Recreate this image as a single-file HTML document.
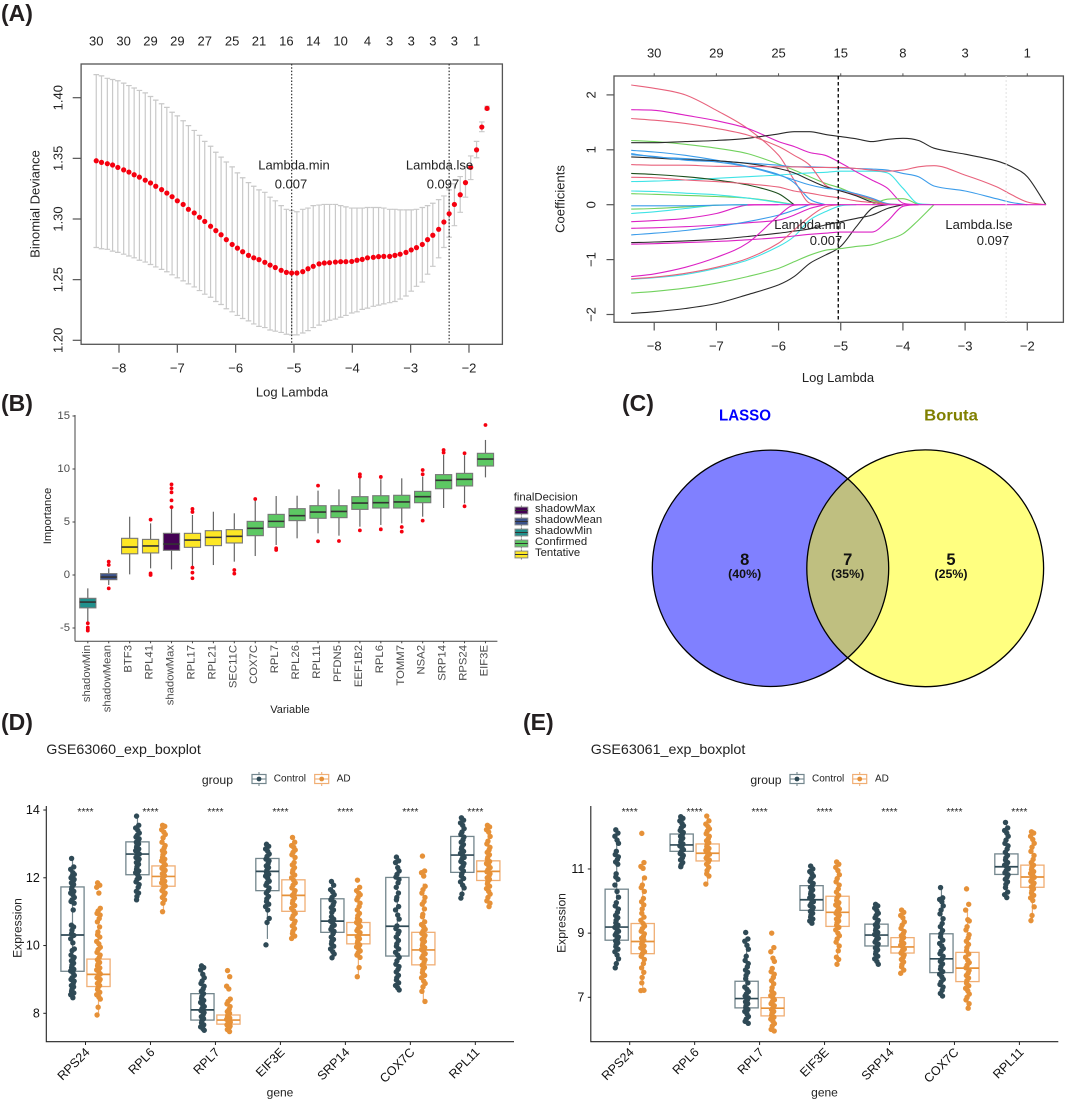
<!DOCTYPE html>
<html lang="en">
<head>
<meta charset="utf-8">
<title>LASSO, Boruta, Venn and expression boxplots</title>
<style>
html,body{margin:0;padding:0;background:#fff;}
svg{display:block;font-family:"Liberation Sans",Arial,sans-serif;filter:blur(.3px);}
text{fill:#222;}
.panel-tag{font-size:23px;font-weight:700;fill:#231f20;}
.venn{font-family:"Liberation Sans",Arial,sans-serif;font-weight:700;}
</style>
</head>
<body>
<svg id="fig" width="1065" height="1100" viewBox="0 0 1065 1100" xmlns="http://www.w3.org/2000/svg">
  <rect width="1065" height="1100" fill="#fff"/>
  <text class="panel-tag" x="1" y="21">(A)</text>
  <text class="panel-tag" x="1" y="411">(B)</text>
  <text class="panel-tag" x="622" y="411">(C)</text>
  <text class="panel-tag" x="1" y="730">(D)</text>
  <text class="panel-tag" x="523" y="730">(E)</text>

  <g id="panelA1">
    <rect x="81.1" y="64" width="421.3" height="280.3" fill="none" stroke="#555" stroke-width="1.3"/>
    <text transform="rotate(-90 35 204)" x="35" y="204" text-anchor="middle" dominant-baseline="central" font-size="13">Binomial Deviance</text>
    <text x="292" y="392" text-anchor="middle" dominant-baseline="central" font-size="13">Log Lambda</text>
  </g>
  <g id="panelA2">
    <rect x="614" y="76" width="449.4" height="246.3" fill="none" stroke="#555" stroke-width="1.3"/>
    <text transform="rotate(-90 560 199)" x="560" y="199" text-anchor="middle" dominant-baseline="central" font-size="13">Coefficients</text>
    <text x="838" y="377.7" text-anchor="middle" dominant-baseline="central" font-size="13">Log Lambda</text>
  </g>
  <g id="panelB">
    <line x1="75" y1="415" x2="75" y2="641.3" stroke="#444" stroke-width="1"/>
    <line x1="75" y1="641.3" x2="497.4" y2="641.3" stroke="#444" stroke-width="1"/>
    <text transform="rotate(-90 48 516)" x="48" y="516" text-anchor="middle" dominant-baseline="central" font-size="11.3">Importance</text>
    <text x="290" y="710" text-anchor="middle" dominant-baseline="central" font-size="11">Variable</text>
    <text x="513.7" y="497.3" dominant-baseline="central" font-size="11.3">finalDecision</text>
  </g>
  <g id="panelC">
    <circle cx="770.5" cy="568.3" r="118.2" fill="#8080ff"/>
    <circle cx="925.2" cy="568.3" r="118.4" fill="#ffff80"/>
    <path d="M847.8 478.7 A118.2 118.2 0 0 1 847.8 657.9 A118.4 118.4 0 0 1 847.8 478.7 Z" fill="#bfbf80"/>
    <circle cx="770.5" cy="568.3" r="118.2" fill="none" stroke="#000" stroke-width="1.3"/>
    <circle cx="925.2" cy="568.3" r="118.4" fill="none" stroke="#000" stroke-width="1.3"/>
    <text class="venn" x="745" y="416" text-anchor="middle" dominant-baseline="central" font-size="16" textLength="52" lengthAdjust="spacingAndGlyphs" style="fill:#0000ff">LASSO</text>
    <text class="venn" x="951" y="416" text-anchor="middle" dominant-baseline="central" font-size="16" textLength="53.7" lengthAdjust="spacingAndGlyphs" style="fill:#808000">Boruta</text>
    <text class="venn" x="744.7" y="560" text-anchor="middle" dominant-baseline="central" font-size="16.5" style="fill:#111">8</text>
    <text class="venn" x="744.7" y="574" text-anchor="middle" dominant-baseline="central" font-size="12.4" style="fill:#111">(40%)</text>
    <text class="venn" x="847.7" y="560" text-anchor="middle" dominant-baseline="central" font-size="16.5" style="fill:#111">7</text>
    <text class="venn" x="847.7" y="574" text-anchor="middle" dominant-baseline="central" font-size="12.4" style="fill:#111">(35%)</text>
    <text class="venn" x="951" y="560" text-anchor="middle" dominant-baseline="central" font-size="16.5" style="fill:#111">5</text>
    <text class="venn" x="951" y="574" text-anchor="middle" dominant-baseline="central" font-size="12.4" style="fill:#111">(25%)</text>
  </g>
  <g id="panelD">
    <text x="46.3" y="750" dominant-baseline="central" font-size="14.25">GSE63060_exp_boxplot</text>
    <text x="217.4" y="780" text-anchor="middle" dominant-baseline="central" font-size="12.2">group</text>
    <text x="273.8" y="779" dominant-baseline="central" font-size="10">Control</text>
    <text x="336.7" y="779" dominant-baseline="central" font-size="10">AD</text>
    <text transform="rotate(-90 17.6 928)" x="17.6" y="928" text-anchor="middle" dominant-baseline="central" font-size="12.1">Expression</text>
    <text x="280" y="1092.7" text-anchor="middle" dominant-baseline="central" font-size="12">gene</text>
  </g>
  <g id="panelE">
    <text x="590.8" y="750" dominant-baseline="central" font-size="14.25">GSE63061_exp_boxplot</text>
    <text x="766" y="780" text-anchor="middle" dominant-baseline="central" font-size="12.2">group</text>
    <text x="812" y="779" dominant-baseline="central" font-size="10">Control</text>
    <text x="875" y="779" dominant-baseline="central" font-size="10">AD</text>
    <text transform="rotate(-90 561.7 923)" x="561.7" y="923" text-anchor="middle" dominant-baseline="central" font-size="12.1">Expression</text>
    <text x="824.5" y="1092.7" text-anchor="middle" dominant-baseline="central" font-size="12">gene</text>
  </g>
</svg>
<script>
/* ---------- Panel A left: cross-validated deviance ---------- */
const cvLogLambda = [-8.39,-8.30,-8.20,-8.11,-8.02,-7.92,-7.83,-7.74,-7.65,-7.55,-7.46,-7.37,-7.27,-7.18,-7.09,-7.00,-6.90,-6.81,-6.71,-6.62,-6.53,-6.43,-6.34,-6.25,-6.16,-6.06,-5.97,-5.88,-5.78,-5.69,-5.60,-5.50,-5.41,-5.32,-5.22,-5.13,-5.04,-4.95,-4.85,-4.76,-4.67,-4.57,-4.48,-4.39,-4.29,-4.20,-4.11,-4.01,-3.92,-3.83,-3.74,-3.64,-3.55,-3.46,-3.36,-3.27,-3.18,-3.08,-2.99,-2.90,-2.80,-2.71,-2.62,-2.52,-2.43,-2.34,-2.25,-2.15,-2.06,-1.97,-1.87,-1.78,-1.69];
const cvMean = [1.348,1.3467,1.3456,1.3445,1.3425,1.3405,1.3387,1.3365,1.3345,1.332,1.3297,1.327,1.3242,1.3214,1.3184,1.315,1.312,1.308,1.305,1.3014,1.298,1.294,1.2904,1.287,1.283,1.279,1.276,1.273,1.270,1.268,1.2665,1.2643,1.262,1.260,1.2577,1.256,1.2555,1.2555,1.2566,1.259,1.261,1.263,1.2637,1.264,1.2645,1.2648,1.2648,1.265,1.266,1.2667,1.268,1.2684,1.269,1.2692,1.2692,1.270,1.271,1.2725,1.2745,1.2764,1.279,1.283,1.2866,1.2915,1.2975,1.3044,1.312,1.320,1.330,1.3426,1.357,1.3758,1.3912];
const cvUpper = [1.419,1.418,1.416,1.415,1.414,1.412,1.410,1.408,1.406,1.404,1.401,1.398,1.395,1.392,1.388,1.385,1.381,1.377,1.373,1.369,1.364,1.360,1.355,1.351,1.347,1.343,1.338,1.334,1.330,1.327,1.324,1.322,1.318,1.315,1.311,1.308,1.307,1.306,1.308,1.309,1.311,1.3115,1.312,1.312,1.312,1.311,1.310,1.309,1.309,1.309,1.3095,1.3095,1.3095,1.309,1.308,1.308,1.3075,1.3075,1.3075,1.308,1.3095,1.311,1.313,1.316,1.319,1.324,1.329,1.335,1.343,1.352,1.364,1.380,1.393];
const cvLower = [1.2765,1.2755,1.275,1.2735,1.2725,1.271,1.2695,1.268,1.266,1.2645,1.2625,1.2605,1.2585,1.2565,1.254,1.2515,1.249,1.2465,1.244,1.241,1.238,1.2355,1.232,1.2295,1.226,1.2235,1.2205,1.218,1.216,1.2135,1.2115,1.2105,1.2085,1.2075,1.2065,1.205,1.2045,1.2045,1.206,1.208,1.2105,1.2125,1.2155,1.2165,1.2175,1.219,1.2205,1.2225,1.2235,1.2255,1.2265,1.228,1.229,1.230,1.231,1.232,1.234,1.2365,1.2405,1.2445,1.248,1.2545,1.261,1.268,1.2765,1.285,1.2945,1.3055,1.318,1.3325,1.3505,1.372,1.390];
const cvTopLabels = ['30','30','29','29','27','25','21','16','14','10','4','3','3','3','3','1'];
const cvTopIndex = [0,5,10,15,20,25,30,35,40,45,50,54,58,62,66,70];
const cvXTicks = [-8,-7,-6,-5,-4,-3,-2];
const cvYTicks = [1.20,1.25,1.30,1.35,1.40];
const lambdaMinLog = -5.04;
const lambdaLseLog = -2.34;

/* ---------- Panel A right: coefficient paths ---------- */
const pathGrid = [-8.37,-8,-7.5,-7,-6.5,-6,-5.75,-5.5,-5.25,-5,-4.75,-4.5,-4.25,-4,-3.75,-3.5,-3,-2.5,-2.25,-2,-1.7];
const pathTopLabels = ['30','29','25','15','8','3','1'];
const pathXTicks = [-8,-7,-6,-5,-4,-3,-2];
const pathYTicks = [-2,-1,0,1,2];
const coefRedA = [2.18,2.12,2.00,1.72,1.39,0.90,0.45,0.03];
const coefMagentaA = [1.73,1.72,1.63,1.53,1.39,1.15,1.06,.95,.9,.76,.6,.45,.3,.03];
const coefRedB = [1.57,1.54,1.48,1.39,1.27,1.06,.9,.72,.36,.25,.18,.1];
const coefBlackA = [1.13,1.13,1.15,1.17,1.21,1.29,1.33,1.33,1.28,1.24,1.2,1.15,1.19,1.21,1.17,1.03,.92,.8,.69,.51,0];
const coefGreenA = [1.17,1.15,1.1,1.03,.93,.74,.63,.51,.39,.3,.18,.08];
const coefBlueA = [.99,.96,.9,.81,.7,.55,.4,.1];
const coefBlueB = [.93,.87,.84,.8,.76,.72,.69,.69,.68,.67,.66,.65,.63,.57,.51,.34,.25,.11,.04];
const coefBlueC = [.91,.88,.81,.78,.69,.54,.45,.36,.3,.27,.2,.12,.02];
const coefBlackB = [.87,.85,.82,.8,.75,.66,.58,.45,.33,.25,.16,.05];
const coefRedC = [.73,.72,.72,.7,.7,.69,.69,.68,.68,.68,.66,.63,.61,.63,.69,.71,.54,.33,.18,.05];
const coefCyanA = [.42,.43,.45,.48,.51,.54,.56,.58,.59,.61,.61,.61,.58,.3,.02];
const coefBlackC = [.57,.55,.51,.45,.36,.2];
const coefRedD = [.5,.49,.45,.42,.38,.32,.25,.21,.16,.12,.07,.04,.01];
const coefCyanB = [.25,.24,.21,.18,.12,.04];
const coefGreenB = [.2,.19,.17,.15,.12,.05];
const coefGreenC = [null,null,null,null,null,null,null,null,null,null,null,0,.1,.11];
const coefBlueD = [-.02,-.02,-.02,-.01];
const coefGreenD = [-.08,-.07,-.04,-.01];
const coefCyanC = [-.16,-.13,-.07,-.01];
const coefMagentaB = [-.31,-.29,-.25,-.16,-.01];
const coefMagentaC = [-.43,-.42,-.4,-.37,-.33,-.28,-.19,-.07];
const coefBlueE = [-.55,-.52,-.47,-.4,-.31,-.19,-.1];
const coefBlackD = [-.69,-.68,-.66,-.63,-.58,-.52,-.48,-.44,-.37,-.31,-.25,-.19,-.07];
const coefMagentaD = [-.72,-.71,-.69,-.67,-.64,-.6,-.57,-.54,-.52,-.5,-.5,-.5,-.3,-.03];
const coefMagentaE = [-1.31,-1.26,-1.14,-.96,-.7,-.2,-.01];
const coefRedE = [-1.35,-1.32,-1.25,-1.14,-.98,-.7,-.46,-.22,-.04];
const coefCyanD = [-1.36,-1.33,-1.27,-1.16,-1.01,-.76,-.58,-.28,-.13,-.02];
const coefGreenE = [-1.61,-1.58,-1.52,-1.43,-1.31,-1.16,-1.04,-.92,-.83,-.8,-.76,-.73,-.64,-.53,-.28];
const coefBlackE = [-1.98,-1.95,-1.89,-1.8,-1.64,-1.46,-1.31,-1.07,-.92,-.76,-.4,-.07];
const coefMagentaZero = [null,null,null,null,0,0,0,0,0,0,0,0,0,0,0,0,0,0,0,0,0];

/* ---------- Panel B: Boruta importance ---------- */
const bVariables = ['shadowMin','shadowMean','BTF3','RPL41','shadowMax','RPL17','RPL21','SEC11C','COX7C','RPL7','RPL26','RPL11','PFDN5','EEF1B2','RPL6','TOMM7','NSA2','SRP14','RPS24','EIF3E'];
const bDecisions = ['shadowMin','shadowMean','Tentative','Tentative','shadowMax','Tentative','Tentative','Tentative','Confirmed','Confirmed','Confirmed','Confirmed','Confirmed','Confirmed','Confirmed','Confirmed','Confirmed','Confirmed','Confirmed','Confirmed'];
const bMedian = [-2.55,-.19,2.64,2.74,2.92,3.3,3.55,3.65,4.4,5.06,5.6,5.94,6.0,6.79,6.82,6.89,7.39,8.93,9.03,10.94];
const bQ1 = [-3.1,-.44,2.0,2.08,2.33,2.61,2.77,3.02,3.71,4.5,5.13,5.35,5.41,6.19,6.32,6.32,6.82,8.14,8.4,10.28];
const bQ3 = [-2.2,.13,3.46,3.36,3.93,3.93,4.18,4.28,5.06,5.72,6.26,6.54,6.54,7.39,7.48,7.52,7.89,9.47,9.59,11.48];
const bWhiskerLow = [-4.47,-.94,.06,.63,.53,.85,.94,1.26,1.79,2.83,3.46,3.93,3.71,4.56,4.72,4.87,5.5,6.32,6.76,9.21];
const bWhiskerHigh = [-1.26,.63,5.5,4.87,6.38,5.66,5.97,5.82,7.08,7.45,7.48,7.96,8.08,9.2,9.03,9.12,9.28,11.32,11.3,12.74];
const bOutliers = [[-4.55,-4.95,-5.1,-5.25],[1.26,.95,-1.26],[],[5.22,.15,0],[6.4,7.04,7.8,8.18,8.55],[6.23,5.94,.69,.22,-.31],[],[.47,.13],[7.17],[2.52,2.36],[],[8.43,3.18],[3.21],[9.5,9.28,4.21],[9.25,4.31],[4.53,4.09],[9.9,9.5,5.13],[11.79,11.54],[11.48,6.48],[14.15]];
const bYTicks = [-5,0,5,10,15];
const bLegendEntries = ['shadowMax','shadowMean','shadowMin','Confirmed','Tentative'];
const bLegendColors = ['#440154','#3b528b','#21908c','#5dc863','#fde725'];

/* ---------- Panels D / E: expression boxplots ---------- */
const genes = ['RPS24','RPL6','RPL7','EIF3E','SRP14','COX7C','RPL11'];
const d60ControlQ1 = [9.24,12.09,7.8,11.62,10.39,9.69,12.16];
const d60ControlMed = [10.31,12.7,8.1,12.19,10.72,10.57,12.67];
const d60ControlQ3 = [11.73,13.06,8.58,12.57,11.38,12.01,13.22];
const d60AdQ1 = [8.79,11.75,7.68,11.01,10.05,9.43,11.92];
const d60AdMed = [9.15,12.04,7.8,11.48,10.31,9.87,12.19];
const d60AdQ3 = [9.6,12.35,7.95,11.94,10.68,10.39,12.5];
const d60YTicks = [8,10,12,14];
const d60ControlPoints = [
[12.57,12.32,12.25,12.15,12.1,12.05,12,11.95,11.9,11.85,11.8,11.72,11.66,11.6,11.55,11.5,11.42,11.35,11.3,11.25,11.05,10.6,10.55,10.45,10.35,10.3,10.2,10.08,9.9,9.85,9.72,9.65,9.6,9.55,9.48,9.42,9.35,9.3,9.25,9.2,9.12,9.05,9,8.95,8.88,8.82,8.78,8.7,8.65,8.6,8.55,8.46],
[13.82,13.55,13.47,13.4,13.32,13.25,13.2,13.15,13.1,13.05,13,12.95,12.9,12.85,12.8,12.75,12.7,12.65,12.6,12.55,12.5,12.45,12.4,12.32,12.25,12.2,12.15,12.08,12,11.95,11.88,11.8,11.72,11.6,11.55,11.45,11.35],
[9.4,9.35,9.28,9.15,9.05,8.95,8.88,8.8,8.72,8.65,8.58,8.5,8.44,8.38,8.32,8.25,8.2,8.14,8.08,8.02,7.96,7.9,7.84,7.78,7.72,7.66,7.6,7.55,7.5],
[12.99,12.93,12.85,12.78,12.7,12.63,12.55,12.5,12.42,12.35,12.3,12.22,12.16,12.1,12.05,11.98,11.9,11.85,11.78,11.7,11.62,11.55,11.45,11.38,11.3,11.22,11.15,11.05,10.8,10.68,10.02],
[11.89,11.78,11.65,11.58,11.5,11.42,11.35,11.28,11.2,11.12,11.05,10.98,10.85,10.78,10.72,10.66,10.6,10.55,10.48,10.42,10.35,10.25,10.18,10.12,10.05,9.98,9.9,9.82,9.75,9.64],
[12.61,12.5,12.45,12.3,12.2,12.1,12.02,11.95,11.85,11.72,11.55,11.42,11.35,11.15,11.05,10.9,10.78,10.58,10.5,10.42,10.35,10.25,10.15,10.05,9.98,9.9,9.8,9.72,9.65,9.55,9.45,9.38,9.3,9.22,9.12,9.05,8.98,8.9,8.82,8.75,8.69],
[13.77,13.7,13.62,13.55,13.45,13.35,13.28,13.2,13.12,13.05,12.98,12.9,12.85,12.78,12.72,12.66,12.6,12.55,12.48,12.42,12.35,12.28,12.2,12.12,12.05,11.98,11.88,11.78,11.7,11.52,11.4]];
const d60AdPoints = [
[11.85,11.78,11.72,11.55,11.1,11.02,10.95,10.9,10.8,10.7,10.55,10.4,10.32,10.25,10.12,10.05,9.95,9.88,9.8,9.72,9.65,9.58,9.5,9.45,9.4,9.34,9.28,9.22,9.16,9.1,9.05,9,8.95,8.88,8.82,8.75,8.7,8.62,8.55,8.48,8.42,8.18,7.95],
[13.55,13.52,13.42,13.35,13.28,13.18,13.05,12.95,12.88,12.8,12.75,12.68,12.6,12.55,12.5,12.45,12.38,12.32,12.28,12.22,12.18,12.12,12.06,12,11.95,11.9,11.85,11.8,11.75,11.68,11.62,11.55,11.5,11.42,11.35,11.25,11.0],
[9.26,9.08,8.8,8.72,8.42,8.35,8.28,8.2,8.12,8.05,8,7.95,7.9,7.86,7.82,7.78,7.74,7.7,7.66,7.62,7.58,7.52,7.46],
[13.19,13.05,12.95,12.9,12.82,12.75,12.68,12.6,12.45,12.38,12.3,12.22,12.15,12.08,12,11.92,11.85,11.78,11.7,11.62,11.55,11.48,11.4,11.32,11.25,11.18,11.1,11.02,10.95,10.88,10.8,10.72,10.65,10.58,10.5,10.42,10.35,10.28,10.21],
[11.93,11.72,11.62,11.55,11.5,11.42,11.35,11.25,11.15,11.05,10.95,10.88,10.8,10.74,10.68,10.62,10.56,10.5,10.44,10.38,10.32,10.26,10.2,10.14,10.08,10.02,9.96,9.9,9.84,9.78,9.72,9.65,9.35,9.08],
[12.64,12.2,12.15,12.05,11.75,11.65,11.55,11.42,11.3,11.22,11.08,10.92,10.85,10.7,10.62,10.55,10.48,10.42,10.36,10.3,10.24,10.18,10.12,10.06,10,9.94,9.88,9.82,9.76,9.7,9.64,9.58,9.5,9.42,9.35,9.28,9.2,9.12,9.05,8.95,8.88,8.78,8.65,8.35],
[13.55,13.5,13.42,13.35,13.22,13.08,13,12.9,12.82,12.75,12.68,12.6,12.55,12.48,12.42,12.36,12.3,12.24,12.18,12.12,12.06,12,11.95,11.88,11.82,11.75,11.68,11.6,11.52,11.42,11.32,11.25,11.15]];

const e61ControlQ1 = [8.78,11.55,6.67,9.71,8.6,7.77,10.83];
const e61ControlMed = [9.19,11.75,6.96,10.04,8.94,8.2,11.07];
const e61ControlQ3 = [10.37,12.09,7.5,10.48,9.28,8.98,11.47];
const e61AdQ1 = [8.36,11.25,6.42,9.21,8.38,7.49,10.43];
const e61AdMed = [8.74,11.49,6.66,9.65,8.57,7.91,10.75];
const e61AdQ3 = [9.3,11.78,6.99,10.15,8.86,8.4,11.12];
const e61YTicks = [7,9,11];
const e61ControlPoints = [
[12.22,12.12,12.02,11.9,11.8,11.55,11.45,11.38,11.3,11.22,11.15,10.85,10.75,10.68,10.5,10.3,10.12,9.95,9.85,9.75,9.65,9.55,9.48,9.4,9.32,9.25,9.18,9.12,9.06,9,8.94,8.88,8.82,8.76,8.7,8.64,8.58,8.5,8.42,8.32,8.2,8.05,7.92],
[12.63,12.58,12.5,12.42,12.35,12.28,12.2,12.14,12.08,12.02,11.96,11.9,11.84,11.78,11.72,11.66,11.6,11.54,11.48,11.42,11.35,11.28,11.2,11.12,11.07],
[9.02,8.82,8.75,8.62,8.5,8.28,8.15,8.05,7.95,7.85,7.78,7.68,7.58,7.45,7.32,7.25,7.18,7.1,7.04,6.98,6.92,6.86,6.8,6.74,6.68,6.62,6.56,6.48,6.4,6.32,6.25,6.19],
[11.09,11,10.92,10.85,10.78,10.7,10.62,10.55,10.48,10.42,10.35,10.28,10.22,10.16,10.1,10.04,9.98,9.92,9.86,9.8,9.74,9.68,9.62,9.56,9.5,9.44,9.38,9.31],
[9.9,9.85,9.78,9.7,9.62,9.55,9.48,9.4,9.33,9.26,9.2,9.14,9.08,9.02,8.96,8.9,8.84,8.78,8.72,8.66,8.6,8.54,8.48,8.42,8.35,8.28,8.2,8.12,8.03],
[10.42,10.1,10.05,9.98,9.85,9.72,9.6,9.45,9.3,9.2,9.08,8.98,8.88,8.78,8.68,8.6,8.52,8.44,8.36,8.28,8.2,8.12,8.04,7.96,7.88,7.8,7.72,7.64,7.56,7.48,7.4,7.32,7.22,7.12,7.04],
[12.45,12.28,12.2,12.12,12.02,11.9,11.8,11.72,11.62,11.52,11.42,11.35,11.28,11.2,11.12,11.06,11,10.94,10.88,10.82,10.75,10.68,10.6,10.52,10.42,10.28,10.2,10.11]];
const e61AdPoints = [
[12.11,11.2,11.08,11.02,10.72,10.5,10.42,10.3,10.08,9.98,9.88,9.75,9.62,9.5,9.4,9.3,9.22,9.14,9.06,8.98,8.9,8.84,8.78,8.72,8.66,8.6,8.54,8.48,8.42,8.36,8.28,8.18,8.05,7.92,7.78,7.62,7.45,7.22,7.21],
[12.65,12.5,12.4,12.32,12.25,12.18,12.1,12.02,11.95,11.88,11.82,11.76,11.7,11.64,11.58,11.52,11.46,11.4,11.34,11.28,11.22,11.15,11.05,10.95,10.85,10.78,10.53],
[9,8.55,8.42,8.22,8.12,7.9,7.8,7.72,7.62,7.52,7.42,7.3,7.2,7.12,7.05,6.98,6.92,6.86,6.8,6.74,6.68,6.62,6.56,6.5,6.44,6.38,6.32,6.25,6.18,6.1,6,5.95],
[11.22,11.15,11.05,10.95,10.82,10.7,10.6,10.5,10.38,10.28,10.18,10.1,10.02,9.95,9.88,9.82,9.75,9.68,9.62,9.56,9.5,9.44,9.38,9.32,9.25,9.18,9.1,9,8.92,8.82,8.72,8.6,8.45,8.25,8.18,8.03],
[9.72,9.65,9.55,9.48,9.35,9.25,9.15,9.05,8.98,8.92,8.86,8.8,8.74,8.68,8.62,8.56,8.5,8.44,8.38,8.32,8.25,8.18,8.1,8.02,7.95,7.85,7.75],
[10.38,9.9,9.72,9.42,9.38,9.2,9.1,8.95,8.85,8.75,8.65,8.55,8.45,8.35,8.25,8.15,8.08,8,7.92,7.84,7.76,7.68,7.6,7.52,7.44,7.36,7.28,7.2,7.1,7,6.92,6.8,6.66],
[12.16,12.12,12.02,11.92,11.8,11.68,11.55,11.42,11.3,11.2,11.12,11.05,10.98,10.92,10.86,10.8,10.74,10.68,10.62,10.56,10.5,10.44,10.38,10.32,10.25,10.18,10.1,10.02,9.82,9.55,9.39]];
const significance = ['****','****','****','****','****','****','****'];

/* ---------- drawing helpers ---------- */
const NS = 'http://www.w3.org/2000/svg';
function mk(tag, attrs, parent) {
  const node = document.createElementNS(NS, tag);
  for (const k in attrs) node.setAttribute(k, attrs[k]);
  parent.appendChild(node);
  return node;
}
function label(parent, x, y, str, size, opts) {
  const o = opts || {};
  const t = mk('text', {x: x, y: y, 'font-size': size, 'text-anchor': o.anchor || 'middle', 'dominant-baseline': 'central'}, parent);
  if (o.rot) t.setAttribute('transform', 'rotate(' + o.rot + ' ' + x + ' ' + y + ')');
  if (o.fill) t.style.fill = o.fill;
  t.textContent = str;
  return t;
}
const minus = s => String(s).replace('-', '\u2212');
/* monotone cubic path through screen points, keeps the glmnet curves smooth without overshoot */
function smoothPath(pts) {
  const n = pts.length;
  if (n < 3) return 'M' + pts.map(p => p[0].toFixed(1) + ' ' + p[1].toFixed(1)).join('L');
  const slope = [];
  for (let i = 0; i < n - 1; i++) slope.push((pts[i + 1][1] - pts[i][1]) / (pts[i + 1][0] - pts[i][0]));
  const tan = [slope[0]];
  for (let i = 1; i < n - 1; i++) {
    if (slope[i - 1] * slope[i] <= 0) { tan.push(0); continue; }
    const m = (pts[i + 1][1] - pts[i - 1][1]) / (pts[i + 1][0] - pts[i - 1][0]);
    const lim = 3 * Math.min(Math.abs(slope[i - 1]), Math.abs(slope[i]));
    tan.push(Math.sign(m) * Math.min(Math.abs(m), lim));
  }
  tan.push(slope[n - 2]);
  let d = 'M' + pts[0][0].toFixed(1) + ' ' + pts[0][1].toFixed(1);
  for (let i = 0; i < n - 1; i++) {
    const h = (pts[i + 1][0] - pts[i][0]) / 3;
    d += 'C' + (pts[i][0] + h).toFixed(1) + ' ' + (pts[i][1] + tan[i] * h).toFixed(1) + ' ' + (pts[i + 1][0] - h).toFixed(1) + ' ' + (pts[i + 1][1] - tan[i + 1] * h).toFixed(1) + ' ' + pts[i + 1][0].toFixed(1) + ' ' + pts[i + 1][1].toFixed(1);
  }
  return d;
}

/* ---------- scales ---------- */
const aX = v => 119 + (v + 8) * 58.33;
const aY = v => 97.7 + (1.40 - v) * 1213;
const pX = v => 654.2 + (v + 8) * 62.18;
const pY = v => 204.7 - v * 54.9;
const bX = i => 87.8 + i * 20.93;
const bY = v => 575 - v * 10.6;

/* ---------- Panel A left ---------- */
(function () {
  const g = document.getElementById('panelA1');
  cvLogLambda.forEach((lam, i) => {
    const x = aX(lam);
    const bar = mk('path', {d: 'M' + x + ' ' + aY(cvUpper[i]) + 'V' + aY(cvLower[i]) + 'M' + (x - 2.8) + ' ' + aY(cvUpper[i]) + 'h5.6M' + (x - 2.8) + ' ' + aY(cvLower[i]) + 'h5.6', fill: 'none', stroke: '#c9c9c9', 'stroke-width': 1.2}, g);
    
    
  });
  [lambdaMinLog, lambdaLseLog].forEach(lam => {
    const v = mk('line', {x1: aX(lam), x2: aX(lam), y1: 64, y2: 344.3, stroke: '#333', 'stroke-width': 1.2, 'stroke-dasharray': '1.5 1.8'}, g);
    
    
  });
  cvLogLambda.forEach((lam, i) => {
    const p = mk('circle', {cx: aX(lam), cy: aY(cvMean[i]), r: 2.6, fill: '#f5000f'}, g);
    
    
  });
  cvXTicks.forEach(v => {
    const t = mk('line', {x1: aX(v), x2: aX(v), y1: 344.3, y2: 352.7, stroke: '#555', 'stroke-width': 1.2}, g);
    
    
    const l = label(g, aX(v), 368, minus(v), 13);
    
    
  });
  cvYTicks.forEach(v => {
    const t = mk('line', {x1: 72.7, x2: 81.1, y1: aY(v), y2: aY(v), stroke: '#555', 'stroke-width': 1.2}, g);
    
    
    const l = label(g, 58, aY(v), v.toFixed(2), 13, {rot: -90});
    
    
  });
  cvTopLabels.forEach((s, i) => {
    const l = label(g, aX(cvLogLambda[cvTopIndex[i]]), 41, s, 13);
    
    
  });
  const a1 = label(g, 294, 165, 'Lambda.min', 13);
  
  
  const a2 = label(g, 291, 184, '0.007', 13);
  
  
  const a3 = label(g, 439.5, 165, 'Lambda.lse', 13);
  
  
  const a4 = label(g, 443, 184, '0.097', 13);
  
  
})();

/* ---------- Panel A right ---------- */
(function () {
  const g = document.getElementById('panelA2');
  const RED = '#e8627c', MAG = '#dc22c4', GRN = '#72d25e', BLU = '#3b9cea', CYN = '#3fe3e6', BLK = '#2a2a2a';
  const lines = [[coefBlackE,BLK],[coefRedA,RED],[coefGreenA,GRN],[coefBlueA,BLU],[coefCyanA,CYN],[coefMagentaA,MAG],
    [coefBlackA,BLK],[coefRedB,RED],[coefGreenB,GRN],[coefBlueB,BLU],[coefCyanB,CYN],[coefMagentaB,MAG],
    [coefBlackB,BLK],[coefRedC,RED],[coefGreenC,GRN],[coefBlueC,BLU],[coefCyanC,CYN],[coefMagentaC,MAG],
    [coefBlackC,'#1d4f1d'],[coefRedD,RED],[coefGreenD,GRN],[coefBlueD,BLU],[coefCyanD,CYN],[coefMagentaD,MAG],
    [coefBlackD,BLK],[coefRedE,RED],[coefGreenE,GRN],[coefBlueE,BLU],[coefMagentaE,MAG],[coefMagentaZero,MAG]];
  lines.forEach(pair => {
    const vals = pair[0];
    const pts = [];
    const last = vals === coefMagentaZero ? vals.length - 1 : Math.min(vals.length, pathGrid.length - 1);
    for (let i = 0; i <= last; i++) {
      const c = i < vals.length ? vals[i] : 0;
      if (c === null) continue;
      pts.push([pX(pathGrid[i]), pY(c)]);
    }
    const pl = mk('path', {d: smoothPath(pts), fill: 'none', stroke: pair[1], 'stroke-width': 1.1, 'stroke-linejoin': 'round'}, g);
    
    
  });
  const v1 = mk('line', {x1: pX(lambdaMinLog), x2: pX(lambdaMinLog), y1: 76, y2: 322.3, stroke: '#000', 'stroke-width': 1.3, 'stroke-dasharray': '3.5 2.5'}, g);
  
  
  const v2 = mk('line', {x1: pX(lambdaLseLog), x2: pX(lambdaLseLog), y1: 76, y2: 322.3, stroke: '#e4e4e4', 'stroke-width': 1.1, 'stroke-dasharray': '2 2'}, g);
  
  
  pathXTicks.forEach((v, i) => {
    const t = mk('line', {x1: pX(v), x2: pX(v), y1: 322.3, y2: 330.5, stroke: '#555', 'stroke-width': 1.2}, g);
    
    
    const tt = mk('line', {x1: pX(v), x2: pX(v), y1: 73.3, y2: 76, stroke: '#555', 'stroke-width': 1}, g);
    
    
    const l = label(g, pX(v), 346, minus(v), 13);
    
    
    const tl = label(g, pX(v), 53, pathTopLabels[i], 13);
    
    
  });
  pathYTicks.forEach(v => {
    const t = mk('line', {x1: 606.5, x2: 614, y1: pY(v), y2: pY(v), stroke: '#555', 'stroke-width': 1.2}, g);
    
    
    const l = label(g, 591, pY(v), minus(v), 13, {rot: -90});
    
    
  });
  const a1 = label(g, 810, 224.7, 'Lambda.min', 13);
  
  
  const a2 = label(g, 826, 240.3, '0.007', 13);
  
  
  const a3 = label(g, 979, 224.7, 'Lambda.lse', 13);
  
  
  const a4 = label(g, 993, 240.3, '0.097', 13);
  
  
})();

/* ---------- Panel B ---------- */
(function () {
  const g = document.getElementById('panelB');
  bVariables.forEach((name, i) => {
    const x = bX(i), w = 16.2;
    const fill = bLegendColors[bLegendEntries.indexOf(bDecisions[i])];
    const wh = mk('line', {x1: x, x2: x, y1: bY(bWhiskerHigh[i]), y2: bY(bWhiskerLow[i]), stroke: '#666', 'stroke-width': 1.2}, g);
    
    
    const box = mk('rect', {x: x - w / 2, y: bY(bQ3[i]), width: w, height: bY(bQ1[i]) - bY(bQ3[i]), fill: fill, stroke: '#777', 'stroke-width': 1.1}, g);
    
    
    const md = mk('line', {x1: x - w / 2, x2: x + w / 2, y1: bY(bMedian[i]), y2: bY(bMedian[i]), stroke: '#333', 'stroke-width': 1.6}, g);
    
    
    bOutliers[i].forEach(v => {
      const o = mk('circle', {cx: x, cy: bY(v), r: 1.9, fill: '#f5000f'}, g);
      
      
    });
    const tk = mk('line', {x1: x, x2: x, y1: 641.3, y2: 643.3, stroke: '#444', 'stroke-width': 1}, g);
    
    
    const l = label(g, x - 1, 645, name, 11.3, {anchor: 'end', rot: -90, fill: '#4d4d4d'});
    
    
  });
  bYTicks.forEach(v => {
    const t = mk('line', {x1: 72.5, x2: 75, y1: bY(v), y2: bY(v), stroke: '#444', 'stroke-width': 1}, g);
    
    
    const l = label(g, 70, bY(v), String(v), 11.3, {anchor: 'end', fill: '#4d4d4d'});
    
    
  });
  bLegendEntries.forEach((name, i) => {
    const yc = 510.5 + i * 11;
    const wk = mk('line', {x1: 521.4, x2: 521.4, y1: yc - 5, y2: yc + 5, stroke: '#777', 'stroke-width': 1}, g);
    
    
    const k = mk('rect', {x: 515, y: yc - 3.4, width: 12.8, height: 6.8, fill: bLegendColors[i], stroke: '#888', 'stroke-width': 1}, g);
    
    
    const m = mk('line', {x1: 515, x2: 527.8, y1: yc, y2: yc, stroke: '#333', 'stroke-width': 1}, g);
    
    
    const l = label(g, 535, yc - 1.5, name, 11.3, {anchor: 'start'});
    
    
  });
})();

/* ---------- Panels D / E ---------- */
const jitterPattern = [-0.5,0.7,-1,0.2,1,-0.2,-0.8,0.9,0.4,-0.6,0.6,-0.3];
function drawExpressionPanel(cfg) {
  const g = document.getElementById(cfg.id);
  const dark = '#2f4a56', orange = '#e69138';
  const yPos = v => cfg.y0 - (v - cfg.v0) * cfg.ppu;
  const xPos = i => cfg.x0 + i * cfg.step;
  const ax = mk('path', {d: 'M' + cfg.left + ' 806V1041.7H' + cfg.right, fill: 'none', stroke: '#222', 'stroke-width': 1.1}, g);
  
  
  cfg.yTicks.forEach(v => {
    const t = mk('line', {x1: cfg.left - 3, x2: cfg.left, y1: yPos(v), y2: yPos(v), stroke: '#222', 'stroke-width': 1}, g);
    
    
    const l = label(g, cfg.left - 6.5, yPos(v), String(v), 12.5, {anchor: 'end', fill: '#111'});
    
    
  });
  genes.forEach((gene, i) => {
    const x = xPos(i);
    const t = mk('line', {x1: x, x2: x, y1: 1041.7, y2: 1045, stroke: '#222', 'stroke-width': 1}, g);
    
    
    const l = mk('text', {x: x + 5, y: 1053, 'font-size': 12.5, 'text-anchor': 'end', transform: 'rotate(-45 ' + (x + 5) + ' 1053)'}, g);
    
    
    l.style.fill = '#111';
    l.textContent = gene;
    const st = mk('text', {x: x, y: 815, 'font-size': 10.4, 'text-anchor': 'middle'}, g);
    
    
    st.textContent = significance[i];
    [[cfg.cQ1, cfg.cMed, cfg.cQ3, cfg.cPts, -13, dark, '#73868d'], [cfg.aQ1, cfg.aMed, cfg.aQ3, cfg.aPts, 13, orange, '#f0ae74']].forEach(s => {
      const q1 = s[0][i], med = s[1][i], q3 = s[2][i], pts = s[3][i], cx = x + s[4];
      const iqr = q3 - q1;
      const lo = Math.max(Math.min.apply(null, pts), q1 - 1.5 * iqr);
      const hi = Math.min(Math.max.apply(null, pts), q3 + 1.5 * iqr);
      const wh = mk('line', {x1: cx, x2: cx, y1: yPos(hi), y2: yPos(lo), stroke: s[6], 'stroke-width': 1.2}, g);
      
      
      const box = mk('rect', {x: cx - 11.6, y: yPos(q3), width: 23.2, height: yPos(q1) - yPos(q3), fill: 'none', stroke: s[6], 'stroke-width': 1.3}, g);
      
      
      const md = mk('line', {x1: cx - 11.6, x2: cx + 11.6, y1: yPos(med), y2: yPos(med), stroke: s[5], 'stroke-width': 1.7}, g);
      
      
      pts.forEach((v, j) => {
        const c = mk('circle', {cx: (cx + jitterPattern[j % jitterPattern.length] * 1.8).toFixed(2), cy: yPos(v).toFixed(2), r: 2.7, fill: s[5]}, g);
        
        
      });
    });
  });
  [[cfg.keyC, dark, '#73868d'], [cfg.keyA, orange, '#f0ae74']].forEach(k => {
    const cx = k[0] + 7;
    const wk = mk('line', {x1: cx, x2: cx, y1: 772, y2: 786, stroke: k[2], 'stroke-width': 1.1}, g);
    
    
    const rc = mk('rect', {x: k[0], y: 774.5, width: 14, height: 9, fill: '#fff', stroke: k[2], 'stroke-width': 1.2}, g);
    
    
    const mdl = mk('line', {x1: k[0], x2: k[0] + 14, y1: 779, y2: 779, stroke: k[2], 'stroke-width': 1.1}, g);
    
    
    const dot = mk('circle', {cx: cx, cy: 779, r: 2.4, fill: k[1]}, g);
    
    
  });
}
drawExpressionPanel({id: 'panelD', left: 46.3, right: 514, x0: 85.5, step: 64.97, y0: 1013.3, v0: 8, ppu: 33.88, yTicks: d60YTicks, keyC: 252, keyA: 314.7,
  cQ1: d60ControlQ1, cMed: d60ControlMed, cQ3: d60ControlQ3, cPts: d60ControlPoints, aQ1: d60AdQ1, aMed: d60AdMed, aQ3: d60AdQ3, aPts: d60AdPoints});
drawExpressionPanel({id: 'panelE', left: 590.8, right: 1058.3, x0: 629.7, step: 64.95, y0: 997.3, v0: 7, ppu: 32.08, yTicks: e61YTicks, keyC: 790, keyA: 852.7,
  cQ1: e61ControlQ1, cMed: e61ControlMed, cQ3: e61ControlQ3, cPts: e61ControlPoints, aQ1: e61AdQ1, aMed: e61AdMed, aQ3: e61AdQ3, aPts: e61AdPoints});
</script>
</body>
</html>
